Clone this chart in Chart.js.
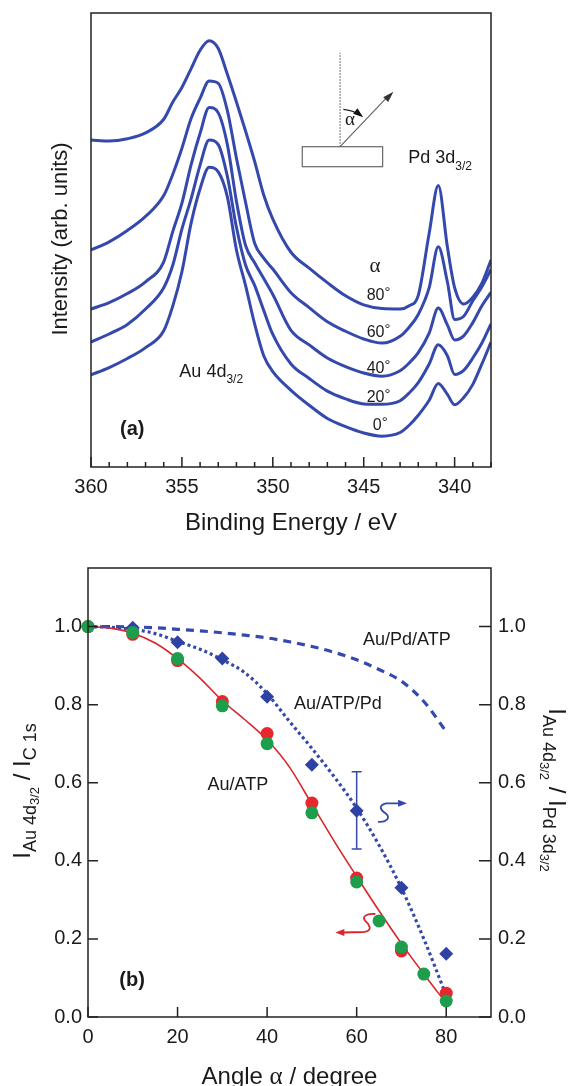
<!DOCTYPE html>
<html>
<head>
<meta charset="utf-8">
<script src="https://cdn.jsdelivr.net/npm/chart.js@4.4.1/dist/chart.umd.min.js"></script>
<style>
    body { margin: 0; background: #fff; }
    canvas { display: block; }
</style>
</head>
<body>
<canvas id="grafico_xps" width="573" height="545"></canvas>
<canvas id="grafico_angulo" width="573" height="541"></canvas>
<script>
/*
    * Dados do painel (a): espectros Au 4d / Pd 3d para cada angulo
    * Dados do painel (b): razoes de intensidade x angulo
    * */
const energia = [360, 359, 358, 357, 356, 355.5, 355, 354.5, 354, 353.5, 353, 352.5, 352, 351.5, 351, 350.5, 350,
    349, 348, 347, 346, 345, 344, 343, 342.5, 342, 341.4, 340.9, 340.4, 340, 339.5, 339, 338.5, 338];
const curva80 = [72.0, 71.8, 72.3, 73.6, 76.6, 80.4, 83.6, 87.7, 91.8, 93.9, 92.2, 86.5, 80.4, 74.0, 67.3, 59.9, 54.6,
    47.3, 43.8, 40.6, 37.7, 35.7, 34.9, 34.8, 35.5, 37.8, 51.5, 62.0, 48.5, 39.5, 35.9, 37.4, 40.5, 45.6];
const curva60 = [47.8, 49.6, 52.1, 55.2, 59.8, 64.5, 70.2, 76.7, 81.2, 85.0, 84.5, 78.5, 68.0, 58.3, 49.3, 46.0, 43.6,
    38.4, 35.1, 32.0, 29.9, 28.2, 27.3, 28.8, 30.8, 33.6, 39.5, 48.5, 40.8, 32.5, 33.2, 36.6, 39.7, 43.5];
const curva40 = [34.8, 36.2, 38.2, 40.8, 45.2, 51.9, 58.1, 66.5, 73.5, 79.2, 78.0, 71.0, 58.5, 48.8, 45.0, 41.5, 38.0,
    30.1, 26.9, 24.0, 22.1, 20.7, 20.0, 21.2, 22.9, 25.2, 29.5, 35.0, 31.3, 28.0, 28.9, 31.8, 35.5, 38.5];
const curva20 = [27.5, 29.3, 31.4, 34.8, 39.5, 44.5, 52.4, 59.0, 66.5, 72.0, 71.0, 64.0, 52.8, 44.5, 40.0, 34.5, 29.2,
    22.7, 19.5, 16.7, 15.0, 13.9, 13.8, 14.6, 16.3, 18.6, 22.7, 26.9, 24.5, 20.4, 21.3, 24.0, 27.3, 31.5];
const curva0 = [20.3, 21.9, 23.9, 26.3, 30.0, 35.5, 43.0, 53.6, 61.3, 66.0, 65.0, 59.5, 47.8, 40.0, 31.5, 24.5, 21.0,
    16.9, 13.6, 10.7, 8.9, 7.5, 6.8, 7.6, 9.2, 11.4, 14.7, 18.4, 16.0, 13.7, 15.3, 18.2, 22.7, 27.5];
const rotulosAngulo = ['80', '60', '40', '20', '0'];

const angulo = [0, 10, 20, 30, 40, 50, 60, 70, 80];
const anguloVerde = [0, 10, 20, 30, 40, 50, 60, 65, 70, 75, 80];
const auAtpVermelho = [1.0, 0.98, 0.913, 0.808, 0.726, 0.548, 0.356, 0.169, 0.061];
const auAtpVerde = [1.0, 0.985, 0.918, 0.797, 0.700, 0.523, 0.346, 0.246, 0.179, 0.110, 0.041];
const auAtpPd = [1.0, 0.997, 0.96, 0.918, 0.82, 0.646, 0.528, 0.331, 0.162];
const erroAngulo = 60;
const erroMin = 0.43;
const erroMax = 0.628;

const anguloAjuste = [0, 5, 10, 15, 20, 25, 30, 35, 40, 45, 50, 55, 60, 65, 70, 75, 80];
const ajusteAuAtp = [1.0, 0.996, 0.983, 0.958, 0.918, 0.868, 0.81, 0.762, 0.71, 0.64, 0.545, 0.45, 0.36, 0.272, 0.188, 0.11, 0.035];
const ajusteAuAtpPd = [1.0, 0.998, 0.993, 0.982, 0.962, 0.942, 0.915, 0.882, 0.828, 0.757, 0.688, 0.615, 0.535, 0.44, 0.33, 0.2, 0.055];
const ajusteAuPdAtp = [1.0, 1.0, 0.999, 0.997, 0.993, 0.989, 0.984, 0.978, 0.971, 0.961, 0.949, 0.934, 0.915, 0.89, 0.86, 0.808, 0.731];

const corAzul = '#3549ad';
const corTexto = '#1a1a1a';
const fonte = '"Liberation Sans", Arial, sans-serif';
const fonteSerif = '"Liberation Serif", "DejaVu Serif", serif';

const pontos = (xs, ys) => xs.map((x, i) => ({x: x, y: ys[i]}));

//Texto com subscritos (cada parte com fonte e deslocamento proprios)
function textoRico(ctx, partes, x, y, ang, alinhar) {
    ctx.save();
    ctx.translate(x, y);
    ctx.rotate(ang || 0);
    ctx.textAlign = 'left';
    ctx.textBaseline = 'alphabetic';
    let largura = 0;
    partes.forEach(p => { ctx.font = p.f; largura += ctx.measureText(p.t).width; });
    let cx = (alinhar === 'left') ? 0 : -largura / 2;
    partes.forEach(p => {
        ctx.font = p.f;
        ctx.fillText(p.t, cx, p.dy || 0);
        cx += ctx.measureText(p.t).width;
    });
    ctx.restore();
}

function seta(ctx, x, y, dx, dy, comp, larg) {
    const n = Math.hypot(dx, dy), ux = dx / n, uy = dy / n;
    ctx.beginPath();
    ctx.moveTo(x, y);
    ctx.lineTo(x - ux * comp - uy * larg, y - uy * comp + ux * larg);
    ctx.lineTo(x - ux * comp + uy * larg, y - uy * comp - ux * larg);
    ctx.closePath();
    ctx.fill();
}

const molduraXps = {
    id: 'molduraXps',
    afterDraw(chart) {
        const {ctx, chartArea: a, scales: {x, y}} = chart;
        const px = e => x.getPixelForValue(e);
        const py = v => y.getPixelForValue(v);
        ctx.save();
        ctx.strokeStyle = '#222';
        ctx.lineWidth = 1.5;
        ctx.strokeRect(a.left, a.top, a.right - a.left, a.bottom - a.top);
        ctx.beginPath();
        for (let e = Math.ceil(x.min); e <= x.max; e++) {
            const comp = (e % 5 === 0) ? 10 : 5;
            ctx.moveTo(px(e), a.bottom);
            ctx.lineTo(px(e), a.bottom - comp);
        }
        ctx.stroke();

        ctx.fillStyle = corTexto;
        textoRico(ctx, [{t: 'Binding Energy / eV', f: `24px ${fonte}`}], (a.left + a.right) / 2, 530, 0);
        textoRico(ctx, [{t: 'Intensity (arb. units)', f: `22px ${fonte}`}], 67, 239, -Math.PI / 2);

        textoRico(ctx, [{t: 'Pd 3d', f: `18px ${fonte}`}, {t: '3/2', f: `12px ${fonte}`, dy: 7}],
            px(342.55), py(67.0), 0, 'left');
        textoRico(ctx, [{t: 'Au 4d', f: `18px ${fonte}`}, {t: '3/2', f: `12px ${fonte}`, dy: 6}],
            px(355.14), py(19.9), 0, 'left');
        textoRico(ctx, [{t: '(a)', f: `bold 20px ${fonte}`}], px(358.4), py(7.0), 0, 'left');

        //alfa e rotulos dos angulos
        textoRico(ctx, [{t: 'α', f: `21px ${fonteSerif}`}], px(344.38), py(42.9), 0);
        const bases = [36.8, 28.6, 20.7, 14.3, 8.2];
        rotulosAngulo.forEach((r, i) => {
            const e = (r === '0') ? 344.5 : 344.84;
            textoRico(ctx, [{t: r, f: `16px ${fonte}`}, {t: '°', f: `15px ${fonte}`, dy: -3}],
                px(e), py(bases[i]), 0, 'left');
        });

        //esquema da geometria de emissao
        const ox = px(346.3), oy = py(70.55);
        ctx.strokeStyle = '#666';
        ctx.lineWidth = 1.2;
        ctx.strokeRect(px(348.38), oy, px(343.96) - px(348.38), 20);
        ctx.setLineDash([1.5, 1.5]);
        ctx.beginPath();
        ctx.moveTo(ox, oy);
        ctx.lineTo(ox, py(91.25));
        ctx.stroke();
        ctx.setLineDash([]);
        const tx = px(343.37), ty = py(82.66);
        ctx.beginPath();
        ctx.moveTo(ox, oy);
        ctx.lineTo(tx - 5, ty + 4.2);
        ctx.stroke();
        ctx.fillStyle = '#333';
        seta(ctx, tx, ty, tx - ox, ty - oy, 11, 3.5);
        const r = 37.5, a0 = -85 * Math.PI / 180, a1 = -58 * Math.PI / 180;
        ctx.strokeStyle = '#222';
        ctx.beginPath();
        ctx.arc(ox, oy, r, a0, a1);
        ctx.stroke();
        const fim = -52 * Math.PI / 180;
        ctx.fillStyle = '#111';
        seta(ctx, ox + r * Math.cos(fim), oy + r * Math.sin(fim), -Math.sin(fim), Math.cos(fim), 10, 3.5);
        ctx.fillStyle = corTexto;
        textoRico(ctx, [{t: 'α', f: `19px ${fonteSerif}`}], ox + 10, oy - 22, 0);
        ctx.restore();
    }
};

new Chart(document.querySelector('#grafico_xps'), {
    type: 'line',
    data: {
        datasets: [curva80, curva60, curva40, curva20, curva0].map(c => ({
            data: pontos(energia, c),
            borderColor: corAzul,
            borderWidth: 3,
            pointRadius: 0,
            fill: false,
            cubicInterpolationMode: 'monotone'
        }))
    },
    options: {
        responsive: false,
        animation: false,
        layout: {padding: {left: 91, right: 82, top: 13, bottom: 0}},
        plugins: {legend: {display: false}, tooltip: {enabled: false}},
        scales: {
            x: {
                type: 'linear',
                reverse: true,
                min: 338,
                max: 360,
                grid: {display: false, drawTicks: false},
                border: {display: false},
                ticks: {
                    stepSize: 5,
                    includeBounds: false,
                    padding: 8,
                    maxRotation: 0,
                    color: corTexto,
                    font: {family: fonte, size: 20}
                },
                afterFit: s => { s.height = 78; }
            },
            y: {display: false, min: 0, max: 100}
        }
    },
    plugins: [molduraXps]
});

const molduraAngulo = {
    id: 'molduraAngulo',
    beforeDatasetsDraw(chart) {
        const {ctx, scales: {x, y2}} = chart;
        const ex = x.getPixelForValue(erroAngulo);
        const y0 = y2.getPixelForValue(erroMin), y1 = y2.getPixelForValue(erroMax);
        ctx.save();
        ctx.strokeStyle = corAzul;
        ctx.lineWidth = 1.5;
        ctx.beginPath();
        ctx.moveTo(ex, y0); ctx.lineTo(ex, y1);
        ctx.moveTo(ex - 5, y0); ctx.lineTo(ex + 5, y0);
        ctx.moveTo(ex - 5, y1); ctx.lineTo(ex + 5, y1);
        ctx.stroke();
        ctx.restore();
    },
    afterDraw(chart) {
        const {ctx, chartArea: a, scales: {x, y, y2}} = chart;
        const px = v => x.getPixelForValue(v);
        const py = v => y.getPixelForValue(v);
        ctx.save();
        ctx.strokeStyle = '#222';
        ctx.lineWidth = 1.5;
        ctx.strokeRect(a.left, a.top, a.right - a.left, a.bottom - a.top);
        ctx.beginPath();
        x.ticks.forEach(t => {
            ctx.moveTo(px(t.value), a.bottom);
            ctx.lineTo(px(t.value), a.bottom - 10);
        });
        y.ticks.forEach(t => {
            ctx.moveTo(a.left, py(t.value));
            ctx.lineTo(a.left + 10, py(t.value));
        });
        y2.ticks.forEach(t => {
            const p = y2.getPixelForValue(t.value);
            ctx.moveTo(a.right, p);
            ctx.lineTo(a.right - 12, p);
        });
        ctx.stroke();

        ctx.fillStyle = corTexto;
        textoRico(ctx, [{t: 'Angle ', f: `24px ${fonte}`}, {t: 'α', f: `25px ${fonteSerif}`},
            {t: ' / degree', f: `24px ${fonte}`}], (a.left + a.right) / 2, 539, 0);
        textoRico(ctx, [
            {t: 'I', f: `24px ${fonte}`},
            {t: 'Au 4d', f: `18px ${fonte}`, dy: 6},
            {t: '3/2', f: `13px ${fonte}`, dy: 9},
            {t: ' / ', f: `24px ${fonte}`},
            {t: 'I', f: `24px ${fonte}`},
            {t: 'C 1s', f: `18px ${fonte}`, dy: 6}
        ], 30, 246, -Math.PI / 2);
        textoRico(ctx, [
            {t: 'I', f: `24px ${fonte}`},
            {t: 'Au 4d', f: `18px ${fonte}`, dy: 6},
            {t: '3/2', f: `13px ${fonte}`, dy: 9},
            {t: ' / ', f: `24px ${fonte}`},
            {t: 'I', f: `24px ${fonte}`},
            {t: 'Pd 3d', f: `18px ${fonte}`, dy: 6},
            {t: '3/2', f: `13px ${fonte}`, dy: 9}
        ], 549, 245, Math.PI / 2);

        textoRico(ctx, [{t: 'Au/Pd/ATP', f: `18px ${fonte}`}], px(61.4), py(0.954), 0, 'left');
        textoRico(ctx, [{t: 'Au/ATP/Pd', f: `18px ${fonte}`}], px(46.0), py(0.79), 0, 'left');
        textoRico(ctx, [{t: 'Au/ATP', f: `18px ${fonte}`}], px(26.7), py(0.582), 0, 'left');
        textoRico(ctx, [{t: '(b)', f: `bold 20px ${fonte}`}], px(7.0), py(0.08), 0, 'left');

        //setas em S indicando o eixo de cada serie
        ctx.lineWidth = 1.8;
        let bx = px(65), by = py(0.5);
        ctx.strokeStyle = corAzul;
        ctx.fillStyle = corAzul;
        ctx.beginPath();
        ctx.moveTo(bx - 1, by);
        ctx.bezierCurveTo(bx + 7, by + 1, bx + 12, by - 4, bx + 7, by - 8);
        ctx.bezierCurveTo(bx + 2, by - 11, bx - 2, by - 16, bx + 7, by - 18.5);
        ctx.lineTo(bx + 21, by - 18.5);
        ctx.stroke();
        seta(ctx, bx + 28, by - 18.5, 1, 0, 9, 3.5);

        bx = px(63.5); by = py(0.26);
        ctx.strokeStyle = '#d9262b';
        ctx.fillStyle = '#d9262b';
        ctx.beginPath();
        ctx.moveTo(bx + 3, by - 1.5);
        ctx.bezierCurveTo(bx - 6, by - 2.5, bx - 11, by + 1.5, bx - 7, by + 5.5);
        ctx.bezierCurveTo(bx - 3, by + 8.5, bx + 1, by + 15, bx - 8, by + 16.5);
        ctx.lineTo(bx - 30, by + 17);
        ctx.stroke();
        seta(ctx, bx - 37, by + 17, -1, 0, 9, 3.5);
        ctx.restore();
    }
};

const eixoRazao = (posicao, largura, pad) => ({
    position: posicao,
    min: 0,
    max: 1.15,
    grid: {display: false, drawTicks: false},
    border: {display: false},
    ticks: {
        stepSize: 0.2,
        includeBounds: false,
        padding: pad,
        color: corTexto,
        font: {family: fonte, size: 20},
        callback: v => v.toFixed(1)
    },
    afterFit: s => { s.width = largura; }
});

new Chart(document.querySelector('#grafico_angulo'), {
    type: 'scatter',
    data: {
        datasets: [
            {
                label: 'Au/ATP (2)',
                data: pontos(anguloVerde, auAtpVerde),
                backgroundColor: '#1c9e4c',
                pointRadius: 6.5,
                borderWidth: 0,
                clip: false,
                order: 1
            },
            {
                label: 'Au/ATP (1)',
                data: pontos(angulo, auAtpVermelho),
                backgroundColor: '#e8262d',
                pointRadius: 6.5,
                borderWidth: 0,
                clip: false,
                order: 2
            },
            {
                label: 'Au/ATP/Pd',
                data: pontos(angulo, auAtpPd),
                yAxisID: 'y2',
                pointStyle: 'rectRot',
                backgroundColor: '#2d42a4',
                pointRadius: 7,
                borderWidth: 0,
                clip: false,
                order: 3
            },
            {
                label: 'ajuste Au/ATP',
                data: pontos(anguloAjuste, ajusteAuAtp),
                showLine: true,
                borderColor: '#d9262b',
                borderWidth: 1.6,
                pointRadius: 0,
                cubicInterpolationMode: 'monotone',
                order: 4
            },
            {
                label: 'ajuste Au/ATP/Pd',
                data: pontos(anguloAjuste, ajusteAuAtpPd),
                yAxisID: 'y2',
                showLine: true,
                borderColor: corAzul,
                borderWidth: 3.2,
                borderDash: [3, 3],
                pointRadius: 0,
                cubicInterpolationMode: 'monotone',
                order: 5
            },
            {
                label: 'Au/Pd/ATP',
                data: pontos(anguloAjuste, ajusteAuPdAtp),
                yAxisID: 'y2',
                showLine: true,
                borderColor: corAzul,
                borderWidth: 3.2,
                borderDash: [8, 6],
                pointRadius: 0,
                cubicInterpolationMode: 'monotone',
                order: 6
            }
        ]
    },
    options: {
        responsive: false,
        animation: false,
        layout: {padding: {left: 0, right: 0, top: 23, bottom: 0}},
        plugins: {legend: {display: false}, tooltip: {enabled: false}},
        scales: {
            x: {
                type: 'linear',
                min: 0,
                max: 90,
                grid: {display: false, drawTicks: false},
                border: {display: false},
                ticks: {
                    stepSize: 20,
                    includeBounds: false,
                    padding: 8,
                    maxRotation: 0,
                    color: corTexto,
                    font: {family: fonte, size: 20}
                },
                afterFit: s => { s.height = 69; }
            },
            y: eixoRazao('left', 88, 6),
            y2: eixoRazao('right', 82, 7)
        }
    },
    plugins: [molduraAngulo]
});
</script>
</body>
</html>
